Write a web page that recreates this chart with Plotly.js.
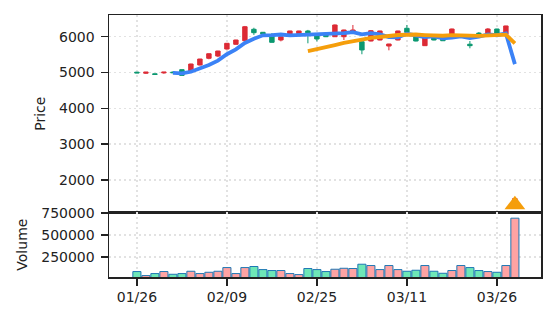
<!DOCTYPE html>
<html><head><meta charset="utf-8">
<script src="https://cdn.plot.ly/plotly-3.0.1.min.js"></script>
<style>html,body{margin:0;padding:0;background:#fff}#chart{width:556px;height:322px}</style>
</head><body><div id="chart"></div>
<script>
const dates = ["01/26","01/27","01/28","01/29","01/30","02/02","02/03","02/04","02/05","02/06",
  "02/09","02/10","02/12","02/13","02/16","02/17","02/18","02/19","02/20","02/24",
  "02/25","02/26","02/27","03/02","03/03","03/04","03/05","03/06","03/09","03/10",
  "03/11","03/12","03/13","03/16","03/17","03/18","03/19","03/23","03/24","03/25",
  "03/26","03/27","03/30"];
const opens  = [5010,4980,4965,4990,5010,5080,5023,5210,5397,5460,5656,5788,5888,6207,6123,6047,5908,6075,6084,6160,6028,6095,6000,6000,6095,5860,5880,5908,5740,5908,6235,6000,5750,6000,6047,6067,6030,5790,6100,6095,6215,6067,1440];
const highs  = [5015,5012,4968,5012,5030,5085,5245,5380,5530,5605,5820,5912,6300,6250,6130,6100,6005,6165,6165,6190,6040,6100,6340,6195,6327,5870,6180,6165,5800,6165,6327,6010,5990,6005,6070,6225,6070,5880,6130,6240,6220,6305,1500];
const lows   = [4985,4960,4942,4965,4990,4915,5010,5200,5370,5430,5640,5780,5880,6050,6060,5840,5870,6070,6080,5816,5870,5990,5995,5908,6090,5510,5870,5900,5620,5900,6115,5870,5745,5900,5880,6060,6025,5676,6080,6090,6090,6060,1430];
const closes = [4990,5010,4945,5010,4995,4920,5238,5377,5525,5600,5816,5908,6279,6112,6075,5843,6000,6160,6160,6047,5936,6000,6327,6187,6187,5630,6167,6160,5796,6160,6123,5880,5983,5908,5888,6215,6060,5750,6085,6215,6095,6300,1480];
const volumes = [82600,36700,59600,82600,51600,59600,86000,59600,74500,86000,128000,59600,128000,140000,105000,94000,94000,59600,48000,117000,105000,82600,109000,120000,117000,166000,151000,105000,151000,105000,86000,97500,151000,86000,63000,94000,151000,128000,94000,82600,74500,151000,690000];
const signalIndex = [42];
const signalPrice = [1310];
const tickIndex = [0,10,20,30,40];
const maPeriods = [5,20];

const idx = dates.map((d,i)=>i);
function sma(arr,n){return arr.map((_,i)=> i<n-1 ? null : arr.slice(i-n+1,i+1).reduce((a,b)=>a+b,0)/n);}
const UP='#dc2a35', DOWN='#0b9870';
const volColors = closes.map((c,i)=> c>=opens[i] ? '#ffa3a3' : '#6ee7b7');

const traces = [
  {type:'candlestick', x:idx, open:opens, high:highs, low:lows, close:closes, xaxis:'x', yaxis:'y',
   increasing:{line:{color:UP,width:1}, fillcolor:UP},
   decreasing:{line:{color:DOWN,width:1}, fillcolor:DOWN}, whiskerwidth:0, hoverinfo:'skip'},
  {type:'scatter', mode:'lines', x:idx, y:sma(closes,maPeriods[0]), line:{color:'#3b82f6',width:3.8}, xaxis:'x', yaxis:'y'},
  {type:'scatter', mode:'lines', x:idx, y:sma(closes,maPeriods[1]), line:{color:'#f59e0b',width:3.8}, xaxis:'x', yaxis:'y'},
  {type:'scatter', mode:'markers', x:signalIndex, y:signalPrice, marker:{symbol:'triangle-up', size:18, color:'#f59e0b'}, xaxis:'x', yaxis:'y'},
  {type:'bar', x:idx, y:volumes, marker:{color:volColors, line:{color:'#1f77b4', width:1}}, width:0.9, xaxis:'x2', yaxis:'y2'}
];

const axBase = {showline:true, mirror:true, linecolor:'#222', linewidth:1.5, showgrid:true, gridcolor:'#e2e2e2', griddash:'2px,3px', gridwidth:1.5, zeroline:false,
  tickfont:{family:'DejaVu Sans', size:14, color:'#222'}, tickcolor:'#222', ticklen:7, tickwidth:1.5};

const layout = {
  width:556, height:322,
  margin:{l:109, r:15, t:15, b:45, pad:0},
  paper_bgcolor:'#fff', plot_bgcolor:'#fff',
  showlegend:false, bargap:0,
  font:{family:'DejaVu Sans', size:14, color:'#222'},
  xaxis:Object.assign({}, axBase, {domain:[0,1], range:[-3.1,44.9], anchor:'y', showticklabels:false, ticks:'', tickvals:tickIndex, rangeslider:{visible:false}}),
  yaxis:Object.assign({}, axBase, {domain:[0.247,1], range:[1098,6606], anchor:'x', tickvals:[2000,3000,4000,5000,6000], ticks:'outside', ticklabelstandoff:3,
     title:{text:'Price', font:{size:14, family:'DejaVu Sans', color:'#222'}, standoff:10}}),
  xaxis2:Object.assign({}, axBase, {domain:[0,1], range:[-3.1,44.9], anchor:'y2', matches:'x', ticks:'outside', tickvals:tickIndex, ticktext:tickIndex.map(i=>dates[i])}),
  yaxis2:Object.assign({}, axBase, {domain:[0,0.247], range:[20600,757000], anchor:'x2', tickvals:[250000,500000,750000], tickformat:'d', ticks:'outside', ticklabelstandoff:3,
     title:{text:'Volume', font:{size:14, family:'DejaVu Sans', color:'#222'}, standoff:10}})
};
Plotly.newPlot('chart', traces, layout, {staticPlot:true, displayModeBar:false});
</script></body></html>
